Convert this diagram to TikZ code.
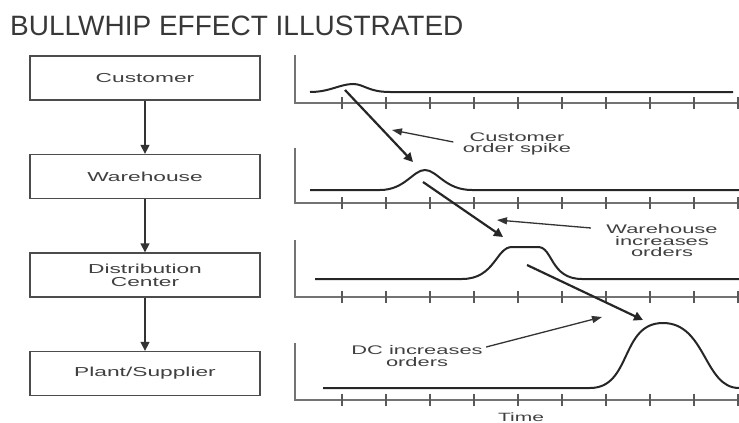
\documentclass[tikz,border=0pt]{standalone}
\usepackage{fontspec}
\setmainfont{Liberation Sans}
\newfontfamily\widefont[FakeStretch=1.75]{Liberation Sans}
\usetikzlibrary{arrows.meta, positioning}

\begin{document}
\begin{tikzpicture}[x=1pt, y=-1pt, >={Triangle[length=9pt, width=9pt]},
  stage/.style={draw=black!70, line width=1.3pt, minimum width=230pt,
                minimum height=44pt, inner sep=0pt, text=black!75,
                font=\widefont\fontsize{13}{13}\selectfont, align=center},
  note/.style={text=black!75, align=center,
               font=\widefont\fontsize{12.5}{11.5}\selectfont},
  axis/.style={black!55, line width=1.8pt},
  tick/.style={black!65, line width=1.2pt},
  curve/.style={black!85, line width=2pt},
  jump/.style={->, black!85, line width=2.2pt},
  pointer/.style={->, black!80, line width=1.3pt,
                  >={Triangle[length=10pt, width=7pt]}}]
  \useasboundingbox (0,0) rectangle (739,423);

  % Title
  \node[anchor=base west, inner sep=0pt, text=black!78,
        font=\fontsize{28}{28}\selectfont] (title) at (10,35)
        {BULLWHIP EFFECT ILLUSTRATED};

  % Supply chain stages
  \node[stage] (cust) at (145,78) {Customer};
  \node[stage] (wh) at (145,176.5) {Warehouse};
  \node[stage] (dc) at (145,275) {Distribution\\Center};
  \node[stage] (plant) at (145,373.5) {Plant/Supplier};

  \draw[->, black!80, line width=1.3pt] (cust) -- (wh);
  \draw[->, black!80, line width=1.3pt] (wh) -- (dc);
  \draw[->, black!80, line width=1.3pt] (dc) -- (plant);

  % Axes with ticks
  \foreach \top/\y in {55/103, 148/203, 240/297, 343/400} {
    \draw[axis] (295,\top) |- (739,\y);
    \foreach \i in {0,...,9}
      \draw[tick] (342+44*\i,\y-6) -- ++(0,12);
  }

  % Order curves
  \draw[curve] (310,92) .. controls (330,92) and (340,84) .. (353,84)
    .. controls (364,84) and (368,92) .. (390,92) -- (733,92);
  \draw[curve] (310,190) -- (380,190) .. controls (405,190) and (413,170) .. (425,170)
    .. controls (437,170) and (445,190) .. (472,190) -- (739,190);
  \draw[curve] (315,279) -- (462,279) .. controls (495,279) and (496,247) .. (512,247)
    -- (538,247) .. controls (553,247) and (550,279) .. (582,279) -- (739,279);
  \draw[curve] (323,388) -- (590,388) .. controls (632,388) and (620,323) .. (663,323)
    .. controls (706,323) and (704,388) .. (739,388);

  % Spike passed down the chain
  \coordinate (s1) at (345,90);
  \coordinate (e1) at (413,162);
  \coordinate (s2) at (423,182);
  \coordinate (e2) at (503,237);
  \coordinate (s3) at (527,265);
  \coordinate (e3) at (643,320);
  \draw[jump] (s1) -- (e1);
  \draw[jump] (s2) -- (e2);
  \draw[jump] (s3) -- (e3);

  % Notes
  \node[note] (spike) at (517,144) {Customer\\order spike};
  \node[note] (whnote) at (662,241) {Warehouse\\increases\\orders};
  \node[note] (dcnote) at (417,356) {DC increases\\orders};

  \coordinate (p1) at (392,130);
  \coordinate (p2) at (497,220);
  \coordinate (p3) at (602,317);
  \draw[pointer] (spike.west) ++(-6,-2) -- (p1);
  \draw[pointer] (whnote.west) ++(-12,-13) -- (p2);
  \draw[pointer] (dcnote.east) ++(0,-9) -- (p3);

  \node[text=black!75, font=\widefont\fontsize{12}{12}\selectfont,
        anchor=north, inner sep=0pt] (time) at (521,413) {Time};
\end{tikzpicture}
\end{document}
